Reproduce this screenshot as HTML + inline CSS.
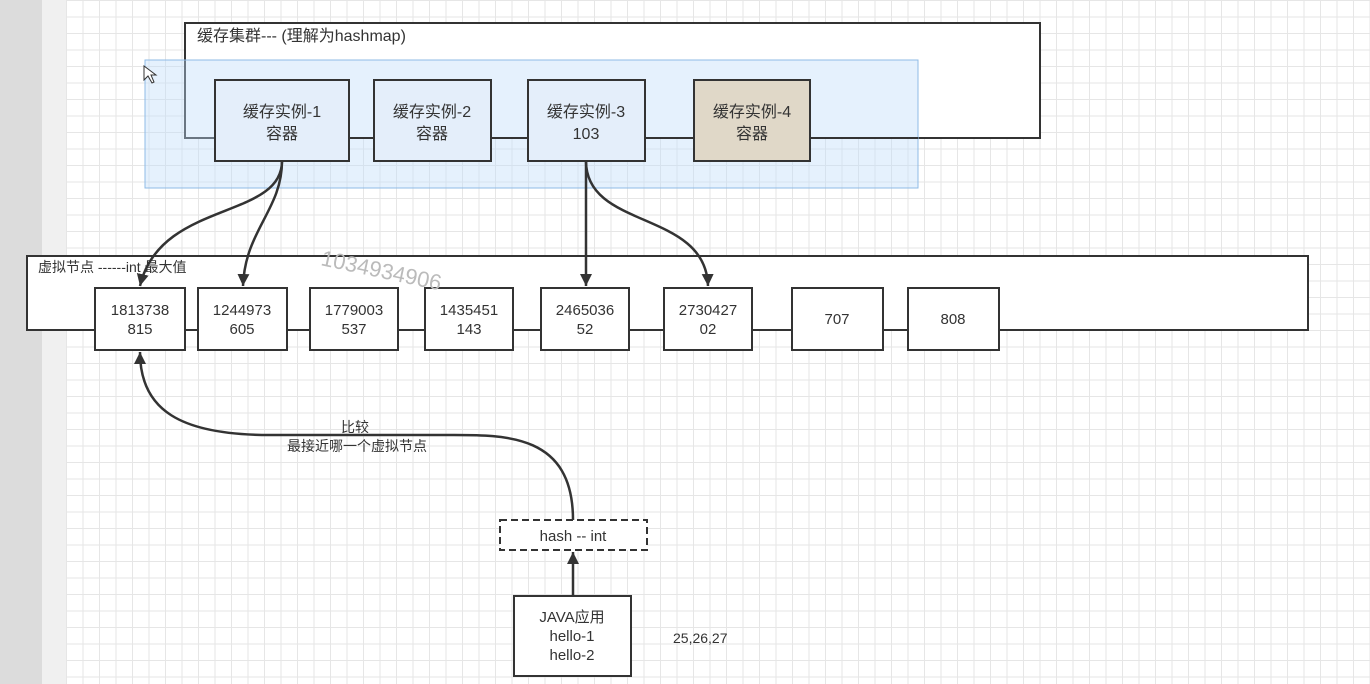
<!DOCTYPE html>
<html><head><meta charset="utf-8"><style>
body{margin:0;width:1370px;height:684px;overflow:hidden;background:#fff;font-family:"Liberation Sans","Noto Sans CJK SC",sans-serif;}
.grid{position:absolute;left:66px;top:0;width:1304px;height:684px;
background-image:linear-gradient(#e6e6e6 1px,transparent 1px),linear-gradient(90deg,#e6e6e6 1px,transparent 1px);background-size:16.5px 16.5px;}
</style></head><body>
<div style="position:absolute;left:0;top:0;width:42px;height:684px;background:#dcdcdc"></div>
<div style="position:absolute;left:42px;top:0;width:24px;height:684px;background:#f0f0f0"></div>
<div class="grid"></div>
<svg width="1370" height="684" style="position:absolute;left:0;top:0" font-family="Liberation Sans, Noto Sans CJK SC, sans-serif">
<defs>
<marker id="b" viewBox="0 0 10 10" markerWidth="12" markerHeight="14" refX="10" refY="5" orient="auto" markerUnits="userSpaceOnUse"><path d="M0,0 L10,5 L0,10 Z" fill="#333"/></marker></defs>
<g stroke="#333" stroke-width="2" fill="#fff">
<rect x="185" y="23" width="855" height="115"/>
</g>
<rect x="145" y="60" width="773" height="128" fill="rgba(190,220,250,0.4)" stroke="#8fbbe6" stroke-width="1"/>
<g stroke="#333" stroke-width="2" fill="#e4eefa">
<line x1="349" y1="138" x2="374" y2="138"/>
<line x1="491" y1="138" x2="528" y2="138"/>
<line x1="645" y1="138" x2="694" y2="138"/>
<line x1="810" y1="138" x2="918" y2="138"/>
<rect x="215" y="80" width="134" height="81"/>
<rect x="374" y="80" width="117" height="81"/>
<rect x="528" y="80" width="117" height="81"/>
<rect x="694" y="80" width="116" height="81" fill="#e0d8c8"/>
</g>
<g font-size="16" fill="#333" text-anchor="middle">
<text x="282" y="117">缓存实例-1</text><text x="282" y="139">容器</text>
<text x="432" y="117">缓存实例-2</text><text x="432" y="139">容器</text>
<text x="586" y="117">缓存实例-3</text><text x="586" y="139">103</text>
<text x="752" y="117">缓存实例-4</text><text x="752" y="139">容器</text>
</g>
<text x="197" y="41" font-size="16" fill="#333">缓存集群---  (理解为hashmap)</text>
<g stroke="#333" stroke-width="2" fill="#fff">
<rect x="27" y="256" width="1281" height="74"/>
<rect x="95" y="288" width="90" height="62"/>
<rect x="198" y="288" width="89" height="62"/>
<rect x="310" y="288" width="88" height="62"/>
<rect x="425" y="288" width="88" height="62"/>
<rect x="541" y="288" width="88" height="62"/>
<rect x="664" y="288" width="88" height="62"/>
<rect x="792" y="288" width="91" height="62"/>
<rect x="908" y="288" width="91" height="62"/>
<rect x="500" y="520" width="147" height="30" stroke-dasharray="7,4"/>
<rect x="514" y="596" width="117" height="80"/>
</g>
<text x="320" y="265" font-size="22" fill="#bbb" transform="rotate(12 320 265)">1034934906</text>
<text x="38" y="272" font-size="14" fill="#333">虚拟节点 ------int 最大值</text>
<g font-size="15" fill="#333" text-anchor="middle">
<text x="140" y="315">1813738</text><text x="140" y="334">815</text>
<text x="242" y="315">1244973</text><text x="242" y="334">605</text>
<text x="354" y="315">1779003</text><text x="354" y="334">537</text>
<text x="469" y="315">1435451</text><text x="469" y="334">143</text>
<text x="585" y="315">2465036</text><text x="585" y="334">52</text>
<text x="708" y="315">2730427</text><text x="708" y="334">02</text>
<text x="837" y="324">707</text><text x="953" y="324">808</text>
<text x="573" y="541">hash -- int</text>
<text x="572" y="622">JAVA应用</text><text x="572" y="641">hello-1</text><text x="572" y="660">hello-2</text>
</g>
<g font-size="14" fill="#333" text-anchor="middle">
<text x="355" y="432">比较</text><text x="357" y="451">最接近哪一个虚拟节点</text>
</g>
<text x="673" y="643" font-size="14" fill="#333">25,26,27</text>
<g stroke="#333" stroke-width="2.5" fill="none">
<path d="M282,161 C282,220 160,200 140,286" marker-end="url(#b)"/>
<path d="M282,161 C282,210 245,230 243,286" marker-end="url(#b)"/>
<path d="M586,161 L586,286" marker-end="url(#b)"/>
<path d="M586,161 C586,230 706,210 708,286" marker-end="url(#b)"/>
<path d="M573,596 L573,552" marker-end="url(#b)"/>
<path d="M573,520 C573,430 500,435 440,435 L270,435 C180,435 140,410 140,352" marker-end="url(#b)"/>
</g>
<path d="M144,66 L144,80 L148,76 L152,83 L154,82 L151,75 L156,75 Z" fill="#fff" stroke="#333" stroke-width="1"/>
</svg>
</body></html>
